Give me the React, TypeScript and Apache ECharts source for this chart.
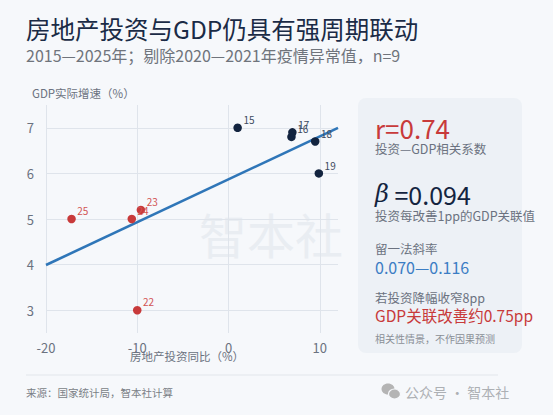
import React, { useEffect, useRef } from 'react';
import * as echarts from 'echarts';

const years = ['15', '16', '17', '18', '19', '22', '23', '24', '25'];
const investGrowth = [1.0, 6.9, 7.0, 9.5, 9.9, -10.0, -9.6, -10.6, -17.2];
const gdpGrowth = [7.0, 6.8, 6.9, 6.7, 6.0, 3.0, 5.2, 5.0, 5.0];
const preCovidCount = 5;
const xTicks = [-20, -10, 0, 10];
const yTicks = [3, 4, 5, 6, 7];
const xRange = [-20, 12];
const yRange = [2.5, 7.5];

const FONT = '"Noto Sans CJK SC", "Noto Sans", sans-serif';
const NAVY = '#13243f';
const RED = '#c83a3a';
const BLUE = '#2f76b8';
const GRAY = '#6b7280';

function ols(xs: number[], ys: number[]) {
  const n = xs.length;
  const mx = xs.reduce((a, b) => a + b, 0) / n;
  const my = ys.reduce((a, b) => a + b, 0) / n;
  let sxy = 0;
  let sxx = 0;
  for (let i = 0; i < n; i++) {
    sxy += (xs[i] - mx) * (ys[i] - my);
    sxx += (xs[i] - mx) ** 2;
  }
  const b = sxy / sxx;
  return { b, a: my - b * mx };
}

export default function App() {
  const ref = useRef<HTMLDivElement>(null);
  useEffect(() => {
    document.body.style.margin = '0';
    document.body.style.background = '#f6f8fb';
    const chart = echarts.init(ref.current!, null, { renderer: 'svg' });
    const { a, b } = ols(investGrowth, gdpGrowth);
    const lineData = xRange.map((x) => [x, a + b * x]);
    const pts = investGrowth.map((x, i) => ({ value: [x, gdpGrowth[i]], name: years[i] }));
    const pre = pts.slice(0, preCovidCount);
    const post = pts.slice(preCovidCount);

    const panelX = 375;
    const txt = (text: string, y: number, size: number, fill: string, extra: any = {}) => ({
      type: 'text',
      x: panelX,
      y,
      style: { text, fill, font: `${size}px ${FONT}`, align: 'left', verticalAlign: 'middle', ...extra },
      z: 10,
    });

    chart.setOption({
      animation: false,
      backgroundColor: '#f6f8fb',
      textStyle: { fontFamily: FONT },
      grid: { left: 46, right: 215, top: 105, bottom: 82, containLabel: false },
      xAxis: {
        type: 'value',
        min: xRange[0],
        max: xRange[1],
        interval: 10,
        axisLine: { show: false },
        axisTick: { show: false },
        axisLabel: {
          color: GRAY,
          fontSize: 13,
          margin: 8,
          showMaxLabel: false,
          formatter: (v: number) => (xTicks.includes(v) ? String(v) : ''),
        },
        splitLine: { show: true, showMaxLine: false, lineStyle: { color: '#dfe4eb', width: 1 } },
      },
      yAxis: {
        type: 'value',
        min: yRange[0],
        max: yRange[1],
        axisLine: { show: false },
        axisTick: { show: false },
        axisLabel: {
          color: GRAY,
          fontSize: 13,
          margin: 12,
          showMinLabel: false,
          showMaxLabel: false,
          formatter: (v: number) => (yTicks.includes(v) ? String(v) : ''),
        },
        splitLine: { show: true, showMinLine: false, showMaxLine: false, lineStyle: { color: '#dfe4eb', width: 1 } },
      },
      graphic: [
        {
          type: 'text',
          x: 199,
          y: 233,
          z: 0,
          silent: true,
          style: { text: '智本社', fill: '#e9edf2', font: `48px ${FONT}`, align: 'left', verticalAlign: 'middle' },
        },
        {
          type: 'text', x: 26, y: 28,
          style: { text: '房地产投资与GDP仍具有强周期联动', fill: '#1b2b46', font: `24.5px ${FONT}`, align: 'left', verticalAlign: 'middle' },
        },
        {
          type: 'text', x: 26, y: 55,
          style: { text: '2015—2025年；剔除2020—2021年疫情异常值，n=9', fill: '#6f747c', font: `16px ${FONT}`, align: 'left', verticalAlign: 'middle' },
        },
        {
          type: 'text', x: 32, y: 93,
          style: { text: 'GDP实际增速（%）', fill: GRAY, font: `11.5px ${FONT}`, align: 'left', verticalAlign: 'middle' },
        },
        {
          type: 'text', x: 187, y: 356,
          style: { text: '房地产投资同比（%）', fill: GRAY, font: `11.5px ${FONT}`, align: 'center', verticalAlign: 'middle' },
        },
        {
          type: 'rect',
          shape: { x: 358, y: 98, width: 164, height: 255, r: 8 },
          style: { fill: '#edf1f6' },
          z: 5,
        },
        txt('r=0.74', 127, 26, RED),
        txt('投资—GDP相关系数', 148, 12.5, GRAY),
        {
          type: 'text', x: panelX, y: 194, z: 10,
          style: {
            text: '{b|β} =0.094',
            fill: NAVY,
            font: `25px ${FONT}`,
            align: 'left',
            verticalAlign: 'middle',
            rich: { b: { fontStyle: 'italic', fontFamily: '"DejaVu Serif", serif', fontSize: 24, fill: NAVY, color: NAVY } },
          },
        },
        txt('投资每改善1pp的GDP关联值', 215, 12.5, GRAY),
        txt('留一法斜率', 248, 12.5, GRAY),
        txt('0.070—0.116', 267, 16, '#3b7dc4'),
        txt('若投资降幅收窄8pp', 297, 12.5, GRAY),
        txt('GDP关联改善约0.75pp', 315, 15.5, RED),
        txt('相关性情景，不作因果预测', 338, 10, '#8a8f96'),
        {
          type: 'line',
          shape: { x1: 26, y1: 375, x2: 498, y2: 375 },
          style: { stroke: '#e2e6eb', lineWidth: 1 },
        },
        {
          type: 'text', x: 26, y: 392,
          style: { text: '来源：国家统计局，智本社计算', fill: '#7a7f86', font: `10.5px ${FONT}`, align: 'left', verticalAlign: 'middle' },
        },
        {
          type: 'ellipse',
          shape: { cx: 388, cy: 389, rx: 6.5, ry: 5.5 },
          style: { fill: '#b4b4b4' },
        },
        {
          type: 'ellipse',
          shape: { cx: 394.5, cy: 394, rx: 6, ry: 5 },
          style: { fill: '#b4b4b4', stroke: '#f6f8fb', lineWidth: 1.2 },
        },
        {
          type: 'text', x: 405, y: 392,
          style: { text: '公众号 · 智本社', fill: '#adb0b4', font: `14px ${FONT}`, align: 'left', verticalAlign: 'middle' },
        },
      ],
      series: [
        {
          type: 'line',
          data: lineData,
          showSymbol: false,
          symbol: 'none',
          lineStyle: { color: BLUE, width: 2.6 },
          z: 2,
          silent: true,
        },
        {
          type: 'scatter',
          data: pre,
          symbolSize: 8.5,
          itemStyle: { color: NAVY, opacity: 1 },
          label: { show: true, formatter: '{b}', position: [10, -9], color: '#3d4b60', fontSize: 10 },
          z: 3,
        },
        {
          type: 'scatter',
          data: post,
          symbolSize: 8.5,
          itemStyle: { color: RED, opacity: 1 },
          label: { show: true, formatter: '{b}', position: [10, -9], color: '#d25454', fontSize: 10 },
          z: 3,
        },
      ],
    });
    return () => chart.dispose();
  }, []);
  return <div ref={ref} style={{ width: 553, height: 415 }} />;
}
